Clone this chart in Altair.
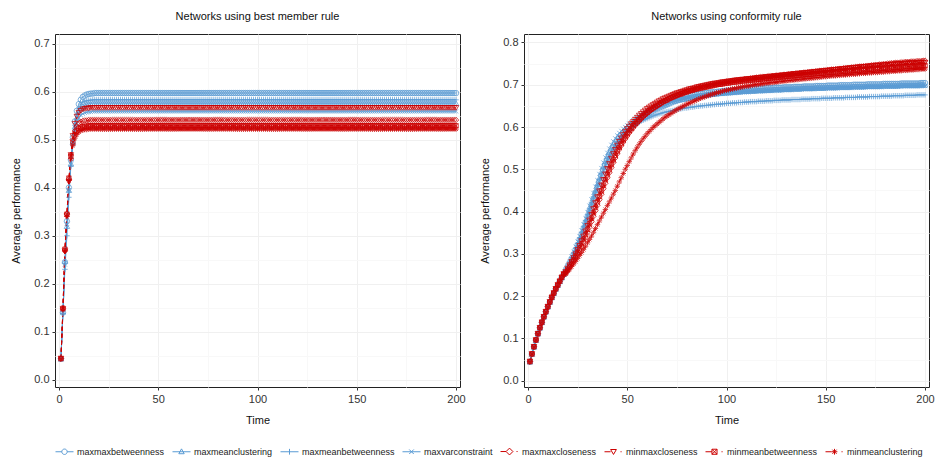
import altair as alt
import pandas as pd

# ---------------- data ----------------
series = ["maxmaxbetweenness", "maxmeanclustering", "maxmeanbetweenness", "maxvarconstraint",
          "maxmaxcloseness", "minmaxcloseness", "minmeanbetweenness", "minmeanclustering"]
time = list(range(1, 201))

# Networks using best member rule: t = 1..20, then the flat level for t = 21..200
best_maxmaxbetweenness = [0.044, 0.140, 0.245, 0.330, 0.400, 0.458, 0.505, 0.538, 0.560, 0.574,
                          0.583, 0.589, 0.592, 0.594, 0.595, 0.596, 0.596, 0.597, 0.597, 0.597]
best_maxmeanclustering = [0.044, 0.142, 0.247, 0.320, 0.395, 0.450, 0.495, 0.527, 0.546, 0.558,
                          0.565, 0.569, 0.572, 0.574, 0.575, 0.575, 0.576, 0.576, 0.576, 0.576]
best_maxmeanbetweenness = [0.044, 0.138, 0.230, 0.300, 0.380, 0.445, 0.495, 0.530, 0.552, 0.566,
                           0.574, 0.578, 0.580, 0.581, 0.582, 0.582, 0.583, 0.583, 0.583, 0.583]
best_maxvarconstraint = [0.044, 0.140, 0.240, 0.325, 0.395, 0.448, 0.490, 0.518, 0.535, 0.545,
                         0.551, 0.554, 0.556, 0.557, 0.558, 0.558, 0.559, 0.559, 0.559, 0.559]
best_maxmaxcloseness = [0.044, 0.148, 0.270, 0.345, 0.418, 0.468, 0.500, 0.518, 0.528, 0.534,
                        0.537, 0.539, 0.540, 0.540, 0.541, 0.541, 0.541, 0.541, 0.541, 0.541]
best_minmaxcloseness = [0.044, 0.147, 0.268, 0.342, 0.412, 0.468, 0.508, 0.533, 0.548, 0.556,
                        0.560, 0.563, 0.564, 0.565, 0.565, 0.566, 0.566, 0.566, 0.566, 0.566]
best_minmeanbetweenness = [0.044, 0.149, 0.272, 0.345, 0.420, 0.465, 0.495, 0.510, 0.518, 0.523,
                           0.526, 0.527, 0.528, 0.528, 0.529, 0.529, 0.529, 0.529, 0.529, 0.529]
best_minmeanclustering = [0.044, 0.146, 0.268, 0.340, 0.415, 0.460, 0.488, 0.503, 0.511, 0.516,
                          0.519, 0.520, 0.521, 0.521, 0.522, 0.522, 0.522, 0.522, 0.522, 0.522]
best_levels = [0.597, 0.576, 0.583, 0.559, 0.541, 0.566, 0.529, 0.522]

# Networks using conformity rule: shared start t = 1..18, then each series t = 19..200
conf_start = [0.045, 0.063, 0.080, 0.096, 0.111, 0.125, 0.138, 0.151, 0.163, 0.175,
              0.186, 0.197, 0.207, 0.217, 0.226, 0.235, 0.244, 0.252]

conf_maxmaxbetweenness = [
    0.261, 0.270, 0.279, 0.289, 0.299, 0.310, 0.321, 0.333, 0.346, 0.359,
    0.373, 0.387, 0.401, 0.415, 0.429, 0.443, 0.457, 0.471, 0.485, 0.498,
    0.510, 0.522, 0.533, 0.543, 0.552, 0.560, 0.567, 0.574, 0.580, 0.586,
    0.591, 0.596, 0.600, 0.604, 0.608, 0.612, 0.616, 0.620, 0.624, 0.628,
    0.631, 0.634, 0.637, 0.640, 0.643, 0.646, 0.649, 0.651, 0.653, 0.655,
    0.657, 0.659, 0.661, 0.663, 0.665, 0.666, 0.668, 0.669, 0.670, 0.671,
    0.672, 0.673, 0.674, 0.675, 0.676, 0.677, 0.677, 0.678, 0.679, 0.679,
    0.680, 0.681, 0.681, 0.682, 0.682, 0.683, 0.683, 0.684, 0.684, 0.685,
    0.685, 0.686, 0.686, 0.686, 0.687, 0.687, 0.687, 0.688, 0.688, 0.688,
    0.689, 0.689, 0.689, 0.690, 0.690, 0.690, 0.690, 0.691, 0.691, 0.691,
    0.691, 0.692, 0.692, 0.692, 0.692, 0.693, 0.693, 0.693, 0.693, 0.693,
    0.694, 0.694, 0.694, 0.694, 0.694, 0.695, 0.695, 0.695, 0.695, 0.695,
    0.696, 0.696, 0.696, 0.696, 0.696, 0.696, 0.697, 0.697, 0.697, 0.697,
    0.697, 0.697, 0.698, 0.698, 0.698, 0.698, 0.698, 0.698, 0.699, 0.699,
    0.699, 0.699, 0.699, 0.699, 0.699, 0.700, 0.700, 0.700, 0.700, 0.700,
    0.700, 0.700, 0.701, 0.701, 0.701, 0.701, 0.701, 0.701, 0.701, 0.701,
    0.702, 0.702, 0.702, 0.702, 0.702, 0.702, 0.702, 0.702, 0.702, 0.703,
    0.703, 0.703, 0.703, 0.703, 0.703, 0.703, 0.703, 0.703, 0.703, 0.704,
    0.704, 0.704]
conf_maxmeanclustering = [
    0.260, 0.268, 0.277, 0.286, 0.296, 0.306, 0.317, 0.329, 0.341, 0.354,
    0.367, 0.381, 0.395, 0.409, 0.423, 0.437, 0.451, 0.465, 0.479, 0.492,
    0.505, 0.517, 0.528, 0.538, 0.547, 0.555, 0.563, 0.570, 0.576, 0.582,
    0.587, 0.592, 0.597, 0.601, 0.605, 0.609, 0.613, 0.617, 0.621, 0.624,
    0.627, 0.630, 0.633, 0.636, 0.639, 0.642, 0.644, 0.646, 0.648, 0.650,
    0.652, 0.654, 0.656, 0.658, 0.660, 0.661, 0.663, 0.664, 0.665, 0.666,
    0.667, 0.668, 0.669, 0.670, 0.671, 0.672, 0.673, 0.673, 0.674, 0.675,
    0.676, 0.676, 0.677, 0.678, 0.678, 0.679, 0.679, 0.680, 0.680, 0.681,
    0.681, 0.682, 0.682, 0.682, 0.683, 0.683, 0.684, 0.684, 0.684, 0.685,
    0.685, 0.685, 0.686, 0.686, 0.686, 0.686, 0.687, 0.687, 0.687, 0.687,
    0.688, 0.688, 0.688, 0.688, 0.689, 0.689, 0.689, 0.689, 0.689, 0.690,
    0.690, 0.690, 0.690, 0.690, 0.691, 0.691, 0.691, 0.691, 0.691, 0.692,
    0.692, 0.692, 0.692, 0.692, 0.692, 0.693, 0.693, 0.693, 0.693, 0.693,
    0.693, 0.694, 0.694, 0.694, 0.694, 0.694, 0.694, 0.695, 0.695, 0.695,
    0.695, 0.695, 0.695, 0.695, 0.696, 0.696, 0.696, 0.696, 0.696, 0.696,
    0.696, 0.697, 0.697, 0.697, 0.697, 0.697, 0.697, 0.697, 0.697, 0.698,
    0.698, 0.698, 0.698, 0.698, 0.698, 0.698, 0.698, 0.698, 0.699, 0.699,
    0.699, 0.699, 0.699, 0.699, 0.699, 0.699, 0.699, 0.699, 0.700, 0.700,
    0.700, 0.700]
conf_maxmeanbetweenness = [
    0.262, 0.271, 0.281, 0.291, 0.302, 0.313, 0.325, 0.338, 0.351, 0.365,
    0.379, 0.393, 0.407, 0.421, 0.435, 0.449, 0.463, 0.477, 0.490, 0.502,
    0.514, 0.525, 0.535, 0.544, 0.552, 0.559, 0.566, 0.572, 0.577, 0.582,
    0.587, 0.591, 0.595, 0.599, 0.602, 0.605, 0.608, 0.611, 0.614, 0.616,
    0.618, 0.620, 0.622, 0.624, 0.626, 0.628, 0.629, 0.631, 0.632, 0.634,
    0.635, 0.636, 0.637, 0.638, 0.639, 0.640, 0.641, 0.642, 0.643, 0.644,
    0.645, 0.645, 0.646, 0.647, 0.647, 0.648, 0.649, 0.649, 0.650, 0.650,
    0.651, 0.651, 0.652, 0.652, 0.653, 0.653, 0.654, 0.654, 0.654, 0.655,
    0.655, 0.656, 0.656, 0.656, 0.657, 0.657, 0.657, 0.658, 0.658, 0.658,
    0.659, 0.659, 0.659, 0.660, 0.660, 0.660, 0.660, 0.661, 0.661, 0.661,
    0.661, 0.662, 0.662, 0.662, 0.662, 0.663, 0.663, 0.663, 0.663, 0.664,
    0.664, 0.664, 0.664, 0.664, 0.665, 0.665, 0.665, 0.665, 0.665, 0.666,
    0.666, 0.666, 0.666, 0.666, 0.667, 0.667, 0.667, 0.667, 0.667, 0.668,
    0.668, 0.668, 0.668, 0.668, 0.668, 0.669, 0.669, 0.669, 0.669, 0.669,
    0.669, 0.670, 0.670, 0.670, 0.670, 0.670, 0.670, 0.671, 0.671, 0.671,
    0.671, 0.671, 0.671, 0.672, 0.672, 0.672, 0.672, 0.672, 0.672, 0.673,
    0.673, 0.673, 0.673, 0.673, 0.673, 0.674, 0.674, 0.674, 0.674, 0.674,
    0.674, 0.675, 0.675, 0.675, 0.675, 0.675, 0.675, 0.676, 0.676, 0.676,
    0.676, 0.676]
conf_maxvarconstraint = [
    0.263, 0.273, 0.283, 0.294, 0.305, 0.317, 0.329, 0.342, 0.356, 0.370,
    0.384, 0.399, 0.414, 0.429, 0.444, 0.459, 0.474, 0.489, 0.503, 0.516,
    0.528, 0.539, 0.549, 0.558, 0.566, 0.573, 0.580, 0.586, 0.591, 0.596,
    0.600, 0.604, 0.608, 0.612, 0.616, 0.620, 0.623, 0.626, 0.629, 0.632,
    0.635, 0.638, 0.641, 0.643, 0.645, 0.647, 0.649, 0.651, 0.653, 0.655,
    0.656, 0.658, 0.659, 0.660, 0.661, 0.662, 0.663, 0.664, 0.665, 0.666,
    0.667, 0.668, 0.669, 0.670, 0.670, 0.671, 0.672, 0.672, 0.673, 0.674,
    0.674, 0.675, 0.675, 0.676, 0.676, 0.677, 0.677, 0.678, 0.678, 0.678,
    0.679, 0.679, 0.679, 0.680, 0.680, 0.680, 0.681, 0.681, 0.681, 0.682,
    0.682, 0.682, 0.682, 0.683, 0.683, 0.683, 0.683, 0.684, 0.684, 0.684,
    0.684, 0.685, 0.685, 0.685, 0.685, 0.686, 0.686, 0.686, 0.686, 0.686,
    0.687, 0.687, 0.687, 0.687, 0.687, 0.688, 0.688, 0.688, 0.688, 0.688,
    0.689, 0.689, 0.689, 0.689, 0.689, 0.689, 0.690, 0.690, 0.690, 0.690,
    0.690, 0.690, 0.691, 0.691, 0.691, 0.691, 0.691, 0.691, 0.692, 0.692,
    0.692, 0.692, 0.692, 0.692, 0.692, 0.693, 0.693, 0.693, 0.693, 0.693,
    0.693, 0.693, 0.694, 0.694, 0.694, 0.694, 0.694, 0.694, 0.694, 0.694,
    0.695, 0.695, 0.695, 0.695, 0.695, 0.695, 0.695, 0.695, 0.695, 0.695,
    0.696, 0.696, 0.696, 0.696, 0.696, 0.696, 0.696, 0.696, 0.696, 0.696,
    0.697, 0.697]
conf_maxmaxcloseness = [
    0.255, 0.262, 0.269, 0.276, 0.284, 0.292, 0.300, 0.309, 0.318, 0.328,
    0.339, 0.351, 0.363, 0.376, 0.389, 0.402, 0.415, 0.428, 0.441, 0.454,
    0.467, 0.480, 0.492, 0.504, 0.516, 0.527, 0.537, 0.547, 0.556, 0.564,
    0.572, 0.579, 0.586, 0.592, 0.598, 0.604, 0.609, 0.614, 0.619, 0.624,
    0.628, 0.632, 0.636, 0.640, 0.644, 0.647, 0.650, 0.653, 0.656, 0.659,
    0.662, 0.664, 0.667, 0.669, 0.671, 0.673, 0.675, 0.677, 0.679, 0.681,
    0.683, 0.684, 0.686, 0.687, 0.689, 0.690, 0.691, 0.693, 0.694, 0.695,
    0.696, 0.697, 0.698, 0.699, 0.700, 0.701, 0.702, 0.703, 0.704, 0.705,
    0.706, 0.707, 0.707, 0.708, 0.709, 0.710, 0.710, 0.711, 0.712, 0.712,
    0.713, 0.714, 0.714, 0.715, 0.715, 0.716, 0.717, 0.717, 0.718, 0.718,
    0.719, 0.719, 0.720, 0.720, 0.721, 0.721, 0.722, 0.722, 0.723, 0.723,
    0.724, 0.724, 0.725, 0.725, 0.726, 0.726, 0.727, 0.727, 0.728, 0.728,
    0.729, 0.729, 0.730, 0.730, 0.731, 0.731, 0.732, 0.732, 0.733, 0.733,
    0.734, 0.734, 0.735, 0.735, 0.736, 0.736, 0.737, 0.737, 0.738, 0.738,
    0.739, 0.739, 0.740, 0.740, 0.741, 0.741, 0.742, 0.742, 0.743, 0.743,
    0.744, 0.744, 0.745, 0.745, 0.746, 0.746, 0.747, 0.747, 0.748, 0.748,
    0.749, 0.749, 0.750, 0.750, 0.751, 0.751, 0.752, 0.752, 0.752, 0.753,
    0.753, 0.754, 0.754, 0.754, 0.755, 0.755, 0.755, 0.756, 0.756, 0.756,
    0.757, 0.757]
conf_minmaxcloseness = [
    0.257, 0.265, 0.273, 0.281, 0.290, 0.299, 0.309, 0.319, 0.330, 0.341,
    0.353, 0.366, 0.379, 0.392, 0.406, 0.420, 0.434, 0.448, 0.462, 0.475,
    0.488, 0.501, 0.513, 0.525, 0.536, 0.546, 0.556, 0.565, 0.573, 0.581,
    0.588, 0.595, 0.601, 0.607, 0.612, 0.617, 0.622, 0.627, 0.631, 0.635,
    0.639, 0.643, 0.646, 0.649, 0.652, 0.655, 0.658, 0.661, 0.663, 0.666,
    0.668, 0.670, 0.672, 0.674, 0.676, 0.678, 0.680, 0.681, 0.683, 0.684,
    0.686, 0.687, 0.689, 0.690, 0.691, 0.692, 0.694, 0.695, 0.696, 0.697,
    0.698, 0.699, 0.700, 0.701, 0.702, 0.703, 0.703, 0.704, 0.705, 0.706,
    0.706, 0.707, 0.708, 0.708, 0.709, 0.710, 0.710, 0.711, 0.711, 0.712,
    0.712, 0.713, 0.713, 0.714, 0.714, 0.715, 0.715, 0.716, 0.716, 0.717,
    0.717, 0.718, 0.718, 0.719, 0.719, 0.720, 0.720, 0.721, 0.721, 0.722,
    0.722, 0.723, 0.723, 0.724, 0.724, 0.725, 0.725, 0.726, 0.726, 0.727,
    0.727, 0.728, 0.728, 0.729, 0.729, 0.730, 0.730, 0.731, 0.731, 0.732,
    0.732, 0.733, 0.733, 0.734, 0.734, 0.735, 0.735, 0.736, 0.736, 0.737,
    0.737, 0.738, 0.738, 0.739, 0.739, 0.740, 0.740, 0.741, 0.741, 0.742,
    0.742, 0.742, 0.743, 0.743, 0.744, 0.744, 0.745, 0.745, 0.745, 0.746,
    0.746, 0.747, 0.747, 0.747, 0.748, 0.748, 0.748, 0.749, 0.749, 0.749,
    0.750, 0.750, 0.750, 0.751, 0.751, 0.751, 0.751, 0.752, 0.752, 0.752,
    0.752, 0.752]
conf_minmeanbetweenness = [
    0.255, 0.262, 0.270, 0.278, 0.286, 0.295, 0.304, 0.314, 0.324, 0.335,
    0.346, 0.358, 0.371, 0.384, 0.397, 0.410, 0.423, 0.436, 0.449, 0.462,
    0.475, 0.487, 0.499, 0.511, 0.522, 0.533, 0.543, 0.552, 0.561, 0.569,
    0.577, 0.584, 0.591, 0.597, 0.603, 0.608, 0.613, 0.618, 0.623, 0.627,
    0.631, 0.635, 0.639, 0.642, 0.645, 0.648, 0.651, 0.654, 0.657, 0.660,
    0.662, 0.664, 0.667, 0.669, 0.671, 0.673, 0.675, 0.677, 0.678, 0.680,
    0.682, 0.683, 0.685, 0.686, 0.687, 0.689, 0.690, 0.691, 0.692, 0.693,
    0.694, 0.695, 0.696, 0.697, 0.698, 0.699, 0.700, 0.701, 0.701, 0.702,
    0.703, 0.704, 0.704, 0.705, 0.706, 0.706, 0.707, 0.707, 0.708, 0.709,
    0.709, 0.710, 0.710, 0.711, 0.711, 0.712, 0.712, 0.713, 0.713, 0.714,
    0.714, 0.715, 0.715, 0.716, 0.716, 0.717, 0.717, 0.718, 0.718, 0.719,
    0.719, 0.720, 0.720, 0.721, 0.721, 0.721, 0.722, 0.722, 0.723, 0.723,
    0.724, 0.724, 0.724, 0.725, 0.725, 0.726, 0.726, 0.727, 0.727, 0.727,
    0.728, 0.728, 0.729, 0.729, 0.729, 0.730, 0.730, 0.731, 0.731, 0.731,
    0.732, 0.732, 0.733, 0.733, 0.733, 0.734, 0.734, 0.735, 0.735, 0.735,
    0.736, 0.736, 0.736, 0.737, 0.737, 0.737, 0.738, 0.738, 0.738, 0.739,
    0.739, 0.739, 0.740, 0.740, 0.740, 0.741, 0.741, 0.741, 0.742, 0.742,
    0.742, 0.743, 0.743, 0.743, 0.743, 0.744, 0.744, 0.744, 0.744, 0.745,
    0.745, 0.745]
conf_minmeanclustering = [
    0.253, 0.259, 0.264, 0.270, 0.276, 0.282, 0.289, 0.296, 0.303, 0.310,
    0.318, 0.326, 0.334, 0.342, 0.351, 0.360, 0.369, 0.378, 0.387, 0.396,
    0.405, 0.414, 0.423, 0.432, 0.441, 0.450, 0.460, 0.470, 0.480, 0.490,
    0.500, 0.509, 0.518, 0.527, 0.536, 0.544, 0.552, 0.559, 0.566, 0.572,
    0.578, 0.584, 0.589, 0.594, 0.599, 0.603, 0.607, 0.611, 0.615, 0.619,
    0.623, 0.626, 0.629, 0.632, 0.635, 0.638, 0.641, 0.644, 0.646, 0.649,
    0.651, 0.654, 0.656, 0.658, 0.660, 0.662, 0.664, 0.666, 0.668, 0.670,
    0.671, 0.673, 0.675, 0.676, 0.678, 0.679, 0.681, 0.682, 0.683, 0.685,
    0.686, 0.687, 0.688, 0.689, 0.690, 0.691, 0.692, 0.693, 0.694, 0.695,
    0.696, 0.697, 0.697, 0.698, 0.699, 0.700, 0.700, 0.701, 0.702, 0.702,
    0.703, 0.704, 0.704, 0.705, 0.705, 0.706, 0.706, 0.707, 0.708, 0.708,
    0.709, 0.709, 0.710, 0.710, 0.711, 0.711, 0.712, 0.712, 0.713, 0.713,
    0.714, 0.714, 0.715, 0.715, 0.716, 0.716, 0.717, 0.717, 0.718, 0.718,
    0.719, 0.719, 0.720, 0.720, 0.721, 0.721, 0.721, 0.722, 0.722, 0.723,
    0.723, 0.723, 0.724, 0.724, 0.725, 0.725, 0.725, 0.726, 0.726, 0.727,
    0.727, 0.727, 0.728, 0.728, 0.728, 0.729, 0.729, 0.729, 0.730, 0.730,
    0.730, 0.731, 0.731, 0.731, 0.732, 0.732, 0.732, 0.733, 0.733, 0.733,
    0.734, 0.734, 0.734, 0.735, 0.735, 0.735, 0.736, 0.736, 0.736, 0.737,
    0.737, 0.737]

best_early = [best_maxmaxbetweenness, best_maxmeanclustering, best_maxmeanbetweenness,
              best_maxvarconstraint, best_maxmaxcloseness, best_minmaxcloseness,
              best_minmeanbetweenness, best_minmeanclustering]
conf_rest = [conf_maxmaxbetweenness, conf_maxmeanclustering, conf_maxmeanbetweenness,
             conf_maxvarconstraint, conf_maxmaxcloseness, conf_minmaxcloseness,
             conf_minmeanbetweenness, conf_minmeanclustering]

# separate keys for marker and dash scales (so the colour legend stays independent)
marker_keys = [f"m{i}" for i in range(len(series))]
dash_keys = [f"d{i}" for i in range(len(series))]

best_rows, conf_rows = [], []
for i, name in enumerate(series):
    b = best_early[i] + [best_levels[i]] * (len(time) - len(best_early[i]))
    c = conf_start + conf_rest[i]
    for t, v in zip(time, b):
        best_rows.append({"series": name, "marker": marker_keys[i], "dash": dash_keys[i], "time": t, "perf": v})
    for t, v in zip(time, c):
        conf_rows.append({"series": name, "marker": marker_keys[i], "dash": dash_keys[i], "time": t, "perf": v})
best_df = pd.DataFrame(best_rows)
conf_df = pd.DataFrame(conf_rows)

# ---------------- styles ----------------
BLUE = "#5A9BD4"
RED = "#CC0000"
FONT = "Liberation Sans"
colors = [BLUE] * 4 + [RED] * 4
dashes = [[1, 0]] * 4 + [[4, 3]] * 4
shapes = [
    "circle",
    "triangle-up",
    "M-1,0H1M0,-1V1",
    "M-0.75,-0.75L0.75,0.75M-0.75,0.75L0.75,-0.75",
    "diamond",
    "triangle-down",
    "M-0.8,-0.8H0.8V0.8H-0.8ZM-0.8,-0.8L0.8,0.8M-0.8,0.8L0.8,-0.8",
    "M-1,0H1M0,-1V1M-0.7,-0.7L0.7,0.7M-0.7,0.7L0.7,-0.7",
]
legend_paths = [
    "M-1,0H-0.3M0.3,0H1M-0.3,0A0.3,0.3 0 1,1 0.3,0A0.3,0.3 0 1,1 -0.3,0",
    "M-1,0H1M0,-0.32L0.3,0.22L-0.3,0.22Z",
    "M-1,0H1M0,-0.32V0.32",
    "M-1,0H1M-0.25,-0.25L0.25,0.25M-0.25,0.25L0.25,-0.25",
    "M-1,0H-0.38M0.78,0H0.9M0,-0.38L0.38,0L0,0.38L-0.38,0Z",
    "M-1,0H-0.32M0.78,0H0.9M-0.32,-0.25L0.32,-0.25L0,0.3Z",
    "M-1,0H-0.28M0.78,0H0.9M-0.28,-0.28H0.28V0.28H-0.28ZM-0.28,-0.28L0.28,0.28M-0.28,0.28L0.28,-0.28",
    "M-1,0H-0.32M0.78,0H0.9M-0.32,0H0.32M0,-0.32V0.32M-0.23,-0.23L0.23,0.23M-0.23,0.23L0.23,-0.23",
]
legend_expr = " : ".join(
    f"datum.value === '{s}' ? '{p}'" for s, p in zip(series[:-1], legend_paths[:-1])
) + f" : '{legend_paths[-1]}'"

legend = alt.Legend(
    title=None, orient="bottom", direction="horizontal", columns=8,
    symbolSize=324, labelFontSize=9, labelFont=FONT, labelColor="#222222",
    columnPadding=5, labelOffset=3, offset=16,
    symbolType={"expr": legend_expr},
    symbolFillColor="transparent", symbolStrokeWidth=1, symbolOpacity=1,
)

x_vals = [0, 25, 50, 75, 100, 125, 150, 175, 200]
major_x = "datum.value % 50 === 0"
major_y = "abs(datum.value * 10 - round(datum.value * 10)) < 0.001"


def panel(df, title, ymax, yvals):
    x = alt.X("time:Q", title="Time",
              scale=alt.Scale(domain=[-2, 202], nice=False, zero=False),
              axis=alt.Axis(values=x_vals, labelExpr=f"{major_x} ? datum.label : ''",
                            tickOpacity={"condition": {"test": major_x, "value": 1}, "value": 0},
                            gridColor={"condition": {"test": major_x, "value": "#F0F0F0"}, "value": "#F8F8F8"},
                            labelFlush=False, titlePadding=10))
    y = alt.Y("perf:Q", title="Average performance",
              scale=alt.Scale(domain=[-0.015, ymax], nice=False, zero=False),
              axis=alt.Axis(values=yvals,
                            labelExpr=f"{major_y} ? format(datum.value, '.1f') : ''",
                            tickOpacity={"condition": {"test": major_y, "value": 1}, "value": 0},
                            gridColor={"condition": {"test": major_y, "value": "#F0F0F0"}, "value": "#F8F8F8"},
                            labelFlush=False, titlePadding=12))
    color = alt.Color("series:N", scale=alt.Scale(domain=series, range=colors), legend=legend)
    lines = alt.Chart(df).mark_line(strokeWidth=1).encode(
        x=x, y=y, color=color,
        strokeDash=alt.StrokeDash("dash:N", scale=alt.Scale(domain=dash_keys, range=dashes), legend=None),
        order="time:Q",
    )
    points = alt.Chart(df).mark_point(filled=False, size=30, strokeWidth=1, opacity=0.75).encode(
        x=x, y=y, color=color,
        shape=alt.Shape("marker:N", scale=alt.Scale(domain=marker_keys, range=shapes), legend=None),
    )
    return alt.layer(lines, points).properties(
        width=405, height=353,
        title=alt.TitleParams(title, fontSize=11, fontWeight="normal", font=FONT, color="#111111",
                              anchor="middle", frame="group", offset=12),
    )


yl = [round(i * 0.05, 2) for i in range(15)]
yr = [round(i * 0.05, 2) for i in range(17)]
left = panel(best_df, "Networks using best member rule", 0.72, yl)
right = panel(conf_df, "Networks using conformity rule", 0.82, yr)

chart = alt.hconcat(left, right, spacing=13).properties(
    padding={"left": 10, "top": 10, "right": 0, "bottom": 0},
    background="white",
).configure_view(
    stroke="#222222", strokeWidth=1
).configure_axis(
    domain=False, labelFont=FONT, labelFontSize=11, labelColor="#333333",
    titleFont=FONT, titleFontSize=11, titleFontWeight="normal", titleColor="#111111",
    tickColor="#333333", tickSize=3, labelPadding=3,
)

chart.save("out.html", embed_options={"renderer": "svg", "actions": False})
